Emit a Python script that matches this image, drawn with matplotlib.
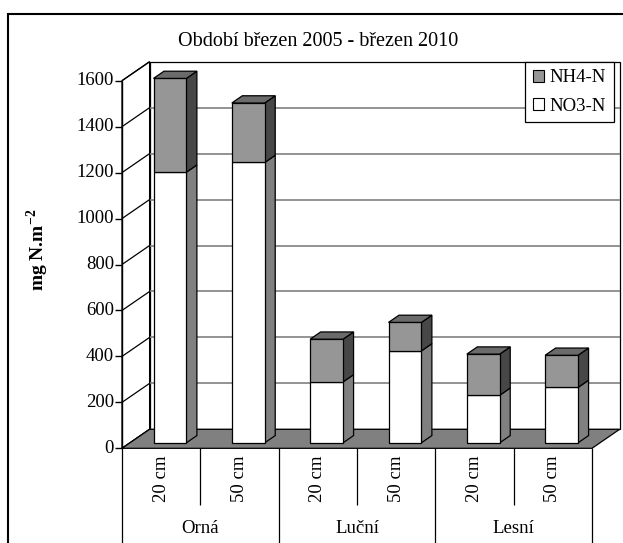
import matplotlib
matplotlib.use("Agg")
import matplotlib.pyplot as plt
from matplotlib.patches import Polygon, Rectangle, Patch

# ---- data -------------------------------------------------------------
groups = ["Orná", "Luční", "Lesní"]
depths = ["20 cm", "50 cm", "20 cm", "50 cm", "20 cm", "50 cm"]
no3_n = [1178, 1220, 265, 400, 207, 241]
nh4_n = [408, 259, 186, 124, 179, 140]
y_ticks = [0, 200, 400, 600, 800, 1000, 1200, 1400, 1600]

title = "Období březen 2005 - březen 2010"
ylabel = "mg N.m$^{\\mathbf{-2}}$"

# ---- styling ----------------------------------------------------------
W, H = 623, 543
FONT = "Liberation Serif"
plt.rcParams["font.family"] = [FONT, "DejaVu Serif"]
plt.rcParams["mathtext.fontset"] = "custom"
plt.rcParams["mathtext.rm"] = FONT
plt.rcParams["mathtext.bf"] = FONT + ":bold"

C_WALL = "white"
C_FLOOR = "#808080"
C_GRID = "#808080"
C_NH4_FRONT = "#969696"
C_NH4_TOP = "#6b6b6b"
C_NH4_SIDE = "#474747"
C_NO3_FRONT = "white"
C_NO3_SIDE = "#808080"
FS = 13.5

fig = plt.figure(figsize=(W / 100, H / 100), dpi=100)

# front plane of the 3-D box, in pixels
x_left, x_right = 122, 592
y_zero, y_top = 448.3, 80.7
ax = fig.add_axes([x_left / W, 1 - y_zero / H,
                   (x_right - x_left) / W, (y_zero - y_top) / H])
ax.set_xlim(0, len(depths))
ax.set_ylim(0, 1600)
ax.axis("off")

# depth offset of the box (pixels), converted to data units
DEPTH_PX = (27.6, 19.0)
inv = ax.transData.inverted()
o = ax.transData.transform((0, 0))
DX, DY = inv.transform((o[0] + DEPTH_PX[0], o[1] + DEPTH_PX[1]))
px_x = (x_right - x_left) / len(depths)
px_y = (y_zero - y_top) / 1600


def P(x, y, d):
    return (x + d * DX, y + d * DY)


def poly(pts, fc, ec="black", lw=0.9, z=1):
    ax.add_patch(Polygon(pts, closed=True, facecolor=fc, edgecolor=ec,
                         linewidth=lw, zorder=z, clip_on=False,
                         joinstyle="miter"))


def line(xs, ys, color="black", lw=0.9, z=2):
    ax.plot(xs, ys, color=color, lw=lw, zorder=z, clip_on=False,
            solid_capstyle="butt")


n = len(depths)
ymax = y_ticks[-1]

# back wall
poly([P(0, 0, 1), P(n, 0, 1), P(n, ymax, 1), P(0, ymax, 1)], C_WALL, z=1)
# side wall
poly([P(0, 0, 0), P(0, 0, 1), P(0, ymax, 1), P(0, ymax, 0)], C_WALL, z=1)

# gridlines: horizontal on the back wall, oblique on the side wall
for v in y_ticks[1:-1]:
    a, b = P(0, v, 1), P(n, v, 1)
    line([a[0], b[0]], [a[1], b[1]], color=C_GRID, lw=1.2, z=1.5)
for v in y_ticks:
    a, b = P(0, v, 0), P(0, v, 1)
    line([a[0], b[0]], [a[1], b[1]], lw=0.9, z=1.6)

# floor
poly([P(0, 0, 0), P(n, 0, 0), P(n, 0, 1), P(0, 0, 1)], C_FLOOR, z=2)

# value axis and ticks
line([0, 0], [0, ymax], lw=1.0, z=3)
tick_len = 7 / px_x
for v in y_ticks:
    line([-tick_len, 0], [v, v], lw=1.0, z=3)
    ax.text(-8 / px_x, v, str(v), ha="right", va="center",
            fontsize=FS, clip_on=False)

# stacked 3-D columns
BAR_OFF, BAR_W = 0.30, 0.42
D0, D1 = 0.29, 0.67


def column_segment(x0, y0, y1, front, side, top=None):
    x1 = x0 + BAR_W
    poly([P(x1, y0, D0), P(x1, y0, D1), P(x1, y1, D1), P(x1, y1, D0)],
         side, z=4)
    poly([P(x0, y0, D0), P(x1, y0, D0), P(x1, y1, D0), P(x0, y1, D0)],
         front, z=4)
    if top is not None:
        poly([P(x0, y1, D0), P(x1, y1, D0), P(x1, y1, D1), P(x0, y1, D1)],
             top, z=4)


for i, (lo, hi) in enumerate(zip(no3_n, nh4_n)):
    x0 = i + BAR_OFF
    column_segment(x0, 0, lo, C_NO3_FRONT, C_NO3_SIDE)
    column_segment(x0, lo, lo + hi, C_NH4_FRONT, C_NH4_SIDE, C_NH4_TOP)

# category axis below the floor
short_drop = 57 / px_y
long_drop = 120 / px_y
for i in range(n + 1):
    drop = long_drop if i % 2 == 0 else short_drop
    line([i, i], [0, -drop], lw=0.9, z=3)
for i, lab in enumerate(depths):
    ax.text(i + 0.5, -30 / px_y, lab, rotation=90, ha="center",
            va="center", fontsize=FS, clip_on=False)
for g, name in enumerate(groups):
    ax.text(2 * g + 1, -80 / px_y, name, ha="center", va="center",
            fontsize=FS, clip_on=False)

# title, axis label, legend
fig.text(318 / W, 1 - 42 / H, title, ha="center", va="center",
         fontsize=14.5)
fig.text(38 / W, 1 - 250 / H, ylabel, rotation=90, ha="center",
         va="center", fontsize=14, fontweight="bold")

handles = [Patch(facecolor=C_NH4_FRONT, edgecolor="black", lw=0.8),
           Patch(facecolor=C_NO3_FRONT, edgecolor="black", lw=0.8)]
leg = fig.legend(handles, ["NH4-N", "NO3-N"], loc="upper right",
                 bbox_to_anchor=(613.7 / W, 1 - 62 / H),
                 bbox_transform=fig.transFigure, borderaxespad=0,
                 fancybox=False, framealpha=1, edgecolor="black",
                 fontsize=FS, handlelength=0.6, handleheight=0.6,
                 handletextpad=0.3, labelspacing=0.6, borderpad=0.4)
leg.get_frame().set_linewidth(0.9)
leg.set_zorder(10)

# chart area border
fig.add_artist(Rectangle((8 / W, -0.1), 1.2, 1 - 14 / H + 0.1,
                         transform=fig.transFigure, fill=False,
                         edgecolor="black", lw=1.5))

fig.savefig("out.png", dpi=100)
